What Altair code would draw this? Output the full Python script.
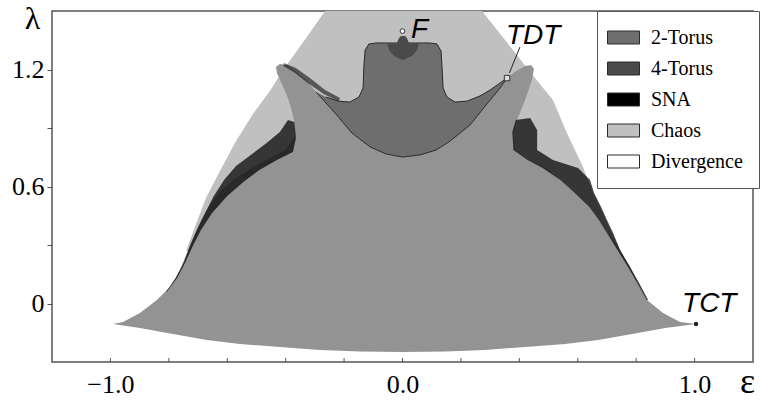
import altair as alt
import pandas as pd

# ---------------- data (axis units: epsilon, lambda) -------------
regimes = ["2-Torus", "4-Torus", "SNA", "Chaos", "Divergence"]
regime_colors = ["#6e6e6e", "#4a4a4a", "#000000", "#c0c0c0", "#ffffff"]

# Chaos (light gray) cone
chaos_x = [-0.265, -0.330, -0.399, -0.454, -0.512, -0.570, -0.625, -0.673, -0.707, -0.741,
           0.745, 0.700, 0.676, 0.652, 0.618, 0.563, 0.515, 0.437, 0.378, 0.324, 0.272]
chaos_y = [1.500, 1.362, 1.218, 1.090, 0.972, 0.833, 0.679, 0.541, 0.408, 0.269,
           0.274, 0.413, 0.495, 0.567, 0.700, 0.874, 1.044, 1.187, 1.300, 1.403, 1.500]

# Main (medium gray) region
main_x = [-0.991, -0.957, -0.899, -0.841, -0.796, -0.762, -0.738, -0.717, -0.693, -0.659,
          -0.618, -0.570, -0.515, -0.454, -0.402, -0.372, -0.368, -0.378, -0.392, -0.413,
          -0.430, -0.433, -0.420, -0.396, -0.365, -0.330, -0.296,
          -0.228, -0.173, -0.111, -0.057, 0.000, 0.060, 0.115, 0.163, 0.231, 0.289, 0.334, 0.358,
          0.389, 0.420, 0.440, 0.450, 0.443, 0.420, 0.396, 0.378, 0.385, 0.430, 0.488, 0.539,
          0.591, 0.642, 0.676, 0.711, 0.745, 0.779, 0.807, 0.837, 0.892, 0.950, 1.005,
          0.899, 0.786, 0.670, 0.557, 0.420, 0.283, 0.146, 0.000, -0.146, -0.283, -0.420,
          -0.557, -0.670, -0.786, -0.899]
main_y = [-0.105, -0.095, -0.049, 0.018, 0.085, 0.172, 0.259, 0.336, 0.418, 0.505,
          0.582, 0.644, 0.695, 0.746, 0.787, 0.849, 0.915, 0.982, 1.054, 1.126,
          1.182, 1.213, 1.228, 1.223, 1.192, 1.146, 1.085,
          0.972, 0.874, 0.803, 0.767, 0.751, 0.762, 0.787, 0.833, 0.915, 1.023, 1.105, 1.156,
          1.192, 1.218, 1.223, 1.203, 1.146, 1.044, 0.956, 0.874, 0.787, 0.736, 0.695, 0.633,
          0.567, 0.495, 0.418, 0.341, 0.274, 0.187, 0.105, 0.018, -0.049, -0.095, -0.105,
          -0.126, -0.156, -0.187, -0.208, -0.223, -0.238, -0.246, -0.249, -0.246, -0.238, -0.223,
          -0.208, -0.187, -0.156, -0.126]

# SNA bands (speckled black strips)
sna_left_x = [-0.392, -0.420, -0.461, -0.515, -0.570, -0.611, -0.646, -0.676, -0.704, -0.728,
              -0.748, -0.776, -0.810,
              -0.806, -0.770, -0.743, -0.718, -0.690, -0.652, -0.600, -0.545, -0.490, -0.430,
              -0.375, -0.365, -0.370]
sna_left_y = [0.941, 0.879, 0.828, 0.767, 0.705, 0.633, 0.551, 0.464, 0.377, 0.295,
              0.213, 0.131, 0.059,
              0.062, 0.135, 0.213, 0.295, 0.377, 0.464, 0.551, 0.623, 0.685, 0.736,
              0.777, 0.849, 0.931]
sna_right_x = [0.437, 0.461, 0.461, 0.515, 0.601, 0.642, 0.656, 0.680, 0.700, 0.721, 0.745,
               0.779, 0.810, 0.841,
               0.836, 0.804, 0.772, 0.736, 0.700, 0.672, 0.640, 0.590, 0.540, 0.480, 0.428,
               0.380, 0.376, 0.388]
sna_right_y = [0.951, 0.890, 0.787, 0.736, 0.695, 0.633, 0.567, 0.495, 0.428, 0.362, 0.274,
               0.187, 0.105, 0.018,
               0.018, 0.105, 0.187, 0.274, 0.362, 0.428, 0.495, 0.567, 0.633, 0.695, 0.736,
               0.787, 0.879, 0.941]
sna_horn_x = [-0.406, -0.365, -0.317, -0.265, -0.214, -0.218, -0.270, -0.322, -0.370, -0.408]
sna_horn_y = [1.233, 1.208, 1.156, 1.095, 1.054, 1.036, 1.074, 1.128, 1.185, 1.218]

# 2-Torus cup
torus2_x = [-0.296, -0.228, -0.173, -0.111, -0.057, 0.000, 0.060, 0.115, 0.163, 0.231, 0.289,
            0.334, 0.358,
            0.334, 0.300, 0.265, 0.221, 0.180, 0.152, 0.139, 0.135, 0.132, 0.118, 0.094,
            -0.091, -0.115, -0.128, -0.132, -0.135, -0.149, -0.180, -0.221, -0.262]
torus2_y = [1.085, 0.972, 0.874, 0.803, 0.767, 0.751, 0.762, 0.787, 0.833, 0.915, 1.023,
            1.105, 1.156,
            1.131, 1.095, 1.064, 1.038, 1.033, 1.059, 1.105, 1.223, 1.295, 1.331, 1.336,
            1.336, 1.331, 1.300, 1.223, 1.105, 1.059, 1.033, 1.038, 1.059]

# 4-Torus cap
torus4_x = [-0.053, -0.046, -0.029, 0.000, 0.033, 0.050, 0.057,
            0.022, 0.015, 0.009, -0.005, -0.012, -0.019]
torus4_y = [1.336, 1.300, 1.269, 1.249, 1.269, 1.300, 1.336,
            1.336, 1.362, 1.372, 1.372, 1.362, 1.336]

# Special points and labels
pt_names = ["F", "TDT", "TCT"]
pt_x = [0.000, 0.358, 1.005]
pt_y = [1.397, 1.156, -0.105]
lab_x = [0.029, 0.354, 0.957]
lab_y = [1.362, 1.331, -0.044]
leader_x = [0.366, 0.402]
leader_y = [1.182, 1.315]

x_ticks = [-1.0, -0.8, -0.6, -0.4, -0.2, 0.0, 0.2, 0.4, 0.6, 0.8, 1.0]
y_ticks = [0.0, 0.3, 0.6, 0.9, 1.2]


def poly(xs, ys, piece, regime):
    return pd.DataFrame({"x": xs, "y": ys, "i": list(range(len(xs))),
                         "piece": piece, "regime": regime})


chaos_df = poly(chaos_x, chaos_y, "chaos", "Chaos")
main_df = poly(main_x, main_y, "main", "Torus")
sna_df = pd.concat([poly(sna_left_x, sna_left_y, "left", "SNA"),
                    poly(sna_right_x, sna_right_y, "right", "SNA")])
horn_df = poly(sna_horn_x, sna_horn_y, "horn", "SNA")
t2_df = poly(torus2_x, torus2_y, "t2", "2-Torus")
t4_df = poly(torus4_x, torus4_y, "t4", "4-Torus")
pts_df = pd.DataFrame({"name": pt_names, "x": pt_x, "y": pt_y, "lx": lab_x, "ly": lab_y})
lead_df = pd.DataFrame({"x": leader_x, "y": leader_y})
xt_df = pd.DataFrame({"x": x_ticks})

SERIF = "Liberation Serif, Times New Roman, Times, serif"
SANS = "Liberation Sans, Arial, sans-serif"

xscale = alt.Scale(domain=[-1.2, 1.2], nice=False, zero=False)
yscale = alt.Scale(domain=[-0.3, 1.5], nice=False, zero=False)
cscale = alt.Scale(domain=regimes, range=regime_colors)

X = alt.X("x:Q", scale=xscale,
          axis=alt.Axis(values=x_ticks, ticks=False, domain=False, grid=False,
                        labelExpr="datum.value == -1 ? '\u22121.0' : datum.value == 0 ? '0.0' : datum.value == 1 ? '1.0' : ''",
                        labelFont=SERIF, labelFontSize=26, labelColor="black", labelPadding=9,
                        title="\u03b5", titleFont=SERIF, titleFontSize=36, titleFontWeight="normal",
                        titleColor="black", titleX=695, titleY=30, titleAlign="center",
                        titleBaseline="alphabetic"))
Y = alt.Y("y:Q", scale=yscale,
          axis=alt.Axis(values=y_ticks, ticks=True, tickSize=5, tickColor="#555555", domain=False,
                        grid=False,
                        labelExpr="datum.value == 0 ? '0' : (abs(datum.value - 0.6) < 0.01 || abs(datum.value - 1.2) < 0.01) ? format(datum.value, '.1f') : ''",
                        labelFont=SERIF, labelFontSize=26, labelColor="black", labelPadding=3,
                        title="\u03bb", titleFont=SERIF, titleFontSize=32, titleFontWeight="normal",
                        titleColor="black", titleAngle=0, titleX=-20, titleY=17, titleAlign="center",
                        titleBaseline="alphabetic"))

legend = alt.Legend(title=None, orient="none", legendX=545, legendY=0,
                    symbolType="M-1.6,-0.65L1.6,-0.65L1.6,0.65L-1.6,0.65Z", symbolSize=400,
                    symbolStrokeColor="#555555", symbolStrokeWidth=1,
                    labelFont=SERIF, labelFontSize=20, labelColor="black", labelOffset=17,
                    rowPadding=10, padding=16, strokeColor="#555555", fillColor="white")

chaos = alt.Chart(chaos_df).mark_line(filled=True, strokeWidth=0).encode(
    x=X, y=Y, order="i:Q", detail="piece:N",
    color=alt.Color("regime:N", scale=cscale, legend=legend))
main = alt.Chart(main_df).mark_line(filled=True, fill="#939393", strokeWidth=0).encode(
    x="x:Q", y="y:Q", order="i:Q", detail="piece:N")
sna = alt.Chart(sna_df).mark_line(filled=True, fill="#000000", strokeWidth=0, opacity=0.72).encode(
    x="x:Q", y="y:Q", order="i:Q", detail="piece:N")
horn = alt.Chart(horn_df).mark_line(filled=True, fill="#000000", strokeWidth=0, opacity=0.55).encode(
    x="x:Q", y="y:Q", order="i:Q", detail="piece:N")
t2 = alt.Chart(t2_df).mark_line(filled=True, stroke="#2a2a2a", strokeWidth=1).encode(
    x="x:Q", y="y:Q", order="i:Q", detail="piece:N",
    color=alt.Color("regime:N", scale=cscale))
t4 = alt.Chart(t4_df).mark_line(filled=True, strokeWidth=0).encode(
    x="x:Q", y="y:Q", order="i:Q", detail="piece:N",
    color=alt.Color("regime:N", scale=cscale))

lead = alt.Chart(lead_df).mark_line(color="#222222", strokeWidth=1).encode(x="x:Q", y="y:Q")
ptF = alt.Chart(pts_df).transform_filter("datum.name == 'F'").mark_point(
    shape="circle", filled=False, fill="white", stroke="#333333", strokeWidth=1, size=22,
    opacity=1).encode(x="x:Q", y="y:Q")
ptTDT = alt.Chart(pts_df).transform_filter("datum.name == 'TDT'").mark_point(
    shape="square", filled=False, fill="#dddddd", stroke="#333333", strokeWidth=1, size=30,
    opacity=1).encode(x="x:Q", y="y:Q")
ptTCT = alt.Chart(pts_df).transform_filter("datum.name == 'TCT'").mark_point(
    shape="circle", filled=True, color="#222222", size=20, opacity=1).encode(x="x:Q", y="y:Q")
labels = alt.Chart(pts_df).mark_text(
    font=SANS, fontStyle="italic", fontSize=28, align="left", baseline="alphabetic",
    color="black").encode(x="lx:Q", y="ly:Q", text="name:N")
xt = alt.Chart(xt_df).mark_rule(color="#555555", strokeWidth=1).encode(
    x="x:Q", y=alt.value(347), y2=alt.value(351))

chart = alt.layer(chaos, main, sna, horn, t2, t4, lead, ptF, ptTDT, ptTCT, labels, xt).properties(
    width=701, height=351,
    autosize=alt.AutoSizeParams(type="none"),
    padding={"left": 52, "top": 11, "right": 8, "bottom": 38},
    background="white",
).configure_view(stroke="#555555", strokeWidth=1.5).configure_axis(
    labelFont=SERIF, titleFont=SERIF, labelFontWeight="normal"
).configure_legend(labelFont=SERIF, labelFontSize=20, labelColor="black")

chart.save("out.html", embed_options={"renderer": "svg", "actions": False})
